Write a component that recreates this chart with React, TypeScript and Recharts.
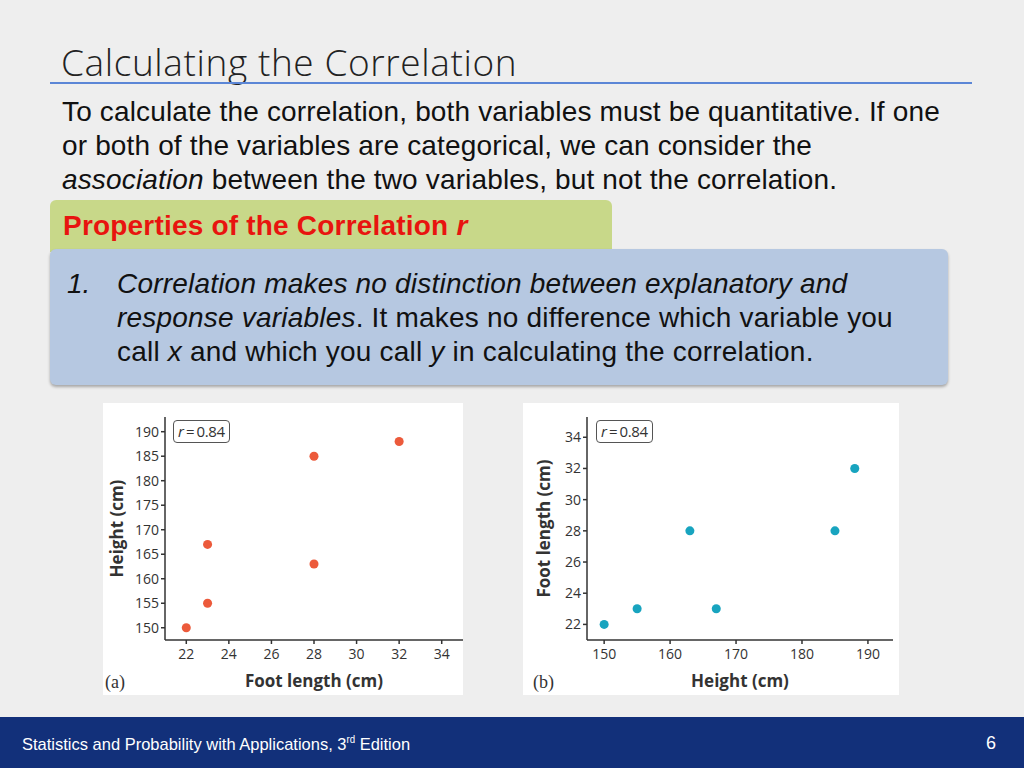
import { ScatterChart, Scatter, XAxis, YAxis, ZAxis, Label } from 'recharts';

// panel (a): foot length vs height
const footA = [22, 23, 23, 28, 28, 32];
const heightA = [150, 155, 167, 163, 185, 188];
// panel (b): height vs foot length
const heightB = [150, 155, 167, 163, 185, 188];
const footB = [22, 23, 23, 28, 28, 32];

const footTicksA = [22, 24, 26, 28, 30, 32, 34];
const heightTicksA = [150, 155, 160, 165, 170, 175, 180, 185, 190];
const heightTicksB = [150, 160, 170, 180, 190];
const footTicksB = [22, 24, 26, 28, 30, 32, 34];

const dataA = footA.map((x, i) => ({ x, y: heightA[i] }));
const dataB = heightB.map((x, i) => ({ x, y: footB[i] }));

const axisFont = "'Open Sans', 'Noto Sans', sans-serif";
const tick = { fill: '#333', fontSize: 14, fontFamily: axisFont };
const axisLine = { stroke: '#333', strokeWidth: 1.5 };
const lbl = { fill: '#333', fontSize: 17, fontWeight: 700, fontFamily: axisFont };

function RBox({ left, top }: { left: number; top: number }) {
  return (
    <div
      style={{
        position: 'absolute', left, top, width: 57, height: 23, border: '1.5px solid #555',
        borderRadius: 4, boxSizing: 'border-box', fontFamily: axisFont, fontSize: 15, color: '#333',
        lineHeight: '20px', textAlign: 'center', background: '#fff', letterSpacing: -0.3,
      }}
    >
      <i>r</i>&thinsp;=&thinsp;0.84
    </div>
  );
}

export default function App() {
  const sans = "'Liberation Sans', Arial, sans-serif";
  return (
    <div style={{ position: 'relative', width: 1024, height: 768, background: '#eeeeee', overflow: 'hidden', fontFamily: sans }}>
      <style>{'body{margin:0}'}</style>
      <div style={{ position: 'absolute', left: 61, top: 36, fontSize: 37, fontWeight: 300, letterSpacing: 0.6, color: '#222', fontFamily: "'Open Sans', sans-serif", whiteSpace: 'nowrap' }}>
        Calculating the Correlation
      </div>
      <div style={{ position: 'absolute', left: 50, top: 82, width: 922, height: 1.5, background: '#5b86d6' }} />
      <div style={{ position: 'absolute', left: 62, top: 95, fontSize: 28, lineHeight: '34px', letterSpacing: 0.15, color: '#111', whiteSpace: 'nowrap' }}>
        To calculate the correlation, both variables must be quantitative. If one<br />
        or both of the variables are categorical, we can consider the<br />
        <i>association</i> between the two variables, but not the correlation.
      </div>

      <div style={{ position: 'absolute', left: 50, top: 200, width: 562, height: 52, background: '#c8d889', borderRadius: '6px 6px 0 0' }} />
      <div style={{ position: 'absolute', left: 63, top: 210, fontSize: 28, fontWeight: 700, letterSpacing: 0.2, color: '#e8140f', whiteSpace: 'nowrap' }}>
        Properties of the Correlation <i>r</i>
      </div>

      <div style={{ position: 'absolute', left: 50, top: 249, width: 898, height: 136, background: '#b6c8e1', borderRadius: 6, boxShadow: '0 2px 3px rgba(0,0,0,0.3)' }} />
      <div style={{ position: 'absolute', left: 67, top: 267, fontSize: 28, lineHeight: '34px', color: '#111', fontStyle: 'italic' }}>
        1.
      </div>
      <div style={{ position: 'absolute', left: 117, top: 267, fontSize: 28, lineHeight: '34px', letterSpacing: 0.2, color: '#111', whiteSpace: 'nowrap' }}>
        <i>Correlation makes no distinction between explanatory and</i><br />
        <i>response variables</i>. It makes no difference which variable you<br />
        call <i>x</i> and which you call <i>y</i> in calculating the correlation.
      </div>

      <div style={{ position: 'absolute', left: 103, top: 403, width: 360, height: 292, background: '#fff' }}>
        <ScatterChart width={360} height={292} margin={{ top: 14, right: 0, bottom: 5, left: 10 }}>
          <XAxis type="number" dataKey="x" domain={[21, 35]} ticks={footTicksA} tick={tick} axisLine={axisLine} tickLine={axisLine} tickSize={4} tickMargin={5} height={50}>
            <Label value="Foot length (cm)" position="insideBottom" offset={3} style={lbl} />
          </XAxis>
          <YAxis type="number" dataKey="y" domain={[147.5, 193]} ticks={heightTicksA} tick={tick} axisLine={axisLine} tickLine={axisLine} tickSize={4} width={52}>
            <Label value="Height (cm)" angle={-90} position="insideLeft" offset={4} style={{ ...lbl, textAnchor: 'middle' }} />
          </YAxis>
          <ZAxis range={[55, 55]} />
          <Scatter data={dataA} fill="#ec5a3b" isAnimationActive={false} />
        </ScatterChart>
        <div style={{ position: 'absolute', left: 2, top: 269, fontFamily: "'Liberation Serif', serif", fontSize: 18, color: '#333' }}>(a)</div>
        <RBox left={70} top={17} />
      </div>

      <div style={{ position: 'absolute', left: 523, top: 403, width: 376, height: 292, background: '#fff' }}>
        <ScatterChart width={370} height={292} margin={{ top: 14, right: 0, bottom: 5, left: 12 }}>
          <XAxis type="number" dataKey="x" domain={[147.4, 193.8]} ticks={heightTicksB} tick={tick} axisLine={axisLine} tickLine={axisLine} tickSize={4} tickMargin={5} height={50}>
            <Label value="Height (cm)" position="insideBottom" offset={3} style={lbl} />
          </XAxis>
          <YAxis type="number" dataKey="y" domain={[21, 35.3]} ticks={footTicksB} tick={tick} axisLine={axisLine} tickLine={axisLine} tickSize={4} width={52}>
            <Label value="Foot length (cm)" angle={-90} position="insideLeft" offset={9} style={{ ...lbl, textAnchor: 'middle' }} />
          </YAxis>
          <ZAxis range={[55, 55]} />
          <Scatter data={dataB} fill="#18a4bf" isAnimationActive={false} />
        </ScatterChart>
        <div style={{ position: 'absolute', left: 10, top: 269, fontFamily: "'Liberation Serif', serif", fontSize: 18, color: '#333' }}>(b)</div>
        <RBox left={73} top={17} />
      </div>

      <div style={{ position: 'absolute', left: 0, top: 717, width: 1024, height: 51, background: '#12307a' }} />
      <div style={{ position: 'absolute', left: 22, top: 734, fontSize: 17, color: '#fff', whiteSpace: 'nowrap', transform: 'scaleX(0.97)', transformOrigin: 'left' }}>
        Statistics and Probability with Applications, 3<sup style={{ fontSize: 10 }}>rd</sup> Edition
      </div>
      <div style={{ position: 'absolute', left: 986, top: 733, fontSize: 18, color: '#fff' }}>6</div>
    </div>
  );
}
